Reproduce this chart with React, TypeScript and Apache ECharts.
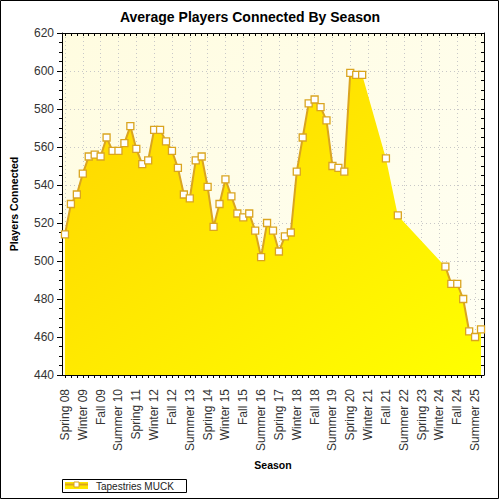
import React, { useEffect, useRef } from "react";
import * as echarts from "echarts";

const categories = [
  "Spring 08", "Summer 08", "Fall 08", "Winter 09", "Spring 09", "Summer 09", "Fall 09", "Winter 10",
  "Spring 10", "Summer 10", "Fall 10", "Winter 11", "Spring 11", "Summer 11", "Fall 11", "Winter 12",
  "Spring 12", "Summer 12", "Fall 12", "Winter 13", "Spring 13", "Summer 13", "Fall 13", "Winter 14",
  "Spring 14", "Summer 14", "Fall 14", "Winter 15", "Spring 15", "Summer 15", "Fall 15", "Winter 16",
  "Spring 16", "Summer 16", "Fall 16", "Winter 17", "Spring 17", "Summer 17", "Fall 17", "Winter 18",
  "Spring 18", "Summer 18", "Fall 18", "Winter 19", "Spring 19", "Summer 19", "Fall 19", "Winter 20",
  "Spring 20", "Summer 20", "Fall 20", "Winter 21", "Spring 21", "Summer 21", "Fall 21", "Winter 22",
  "Spring 22", "Summer 22", "Fall 22", "Winter 23", "Spring 23", "Summer 23", "Fall 23", "Winter 24",
  "Spring 24", "Summer 24", "Fall 24", "Winter 25", "Spring 25", "Summer 25", "Fall 25",
];

const players: (number | null)[] = [
  514, 530, 535, 546, 555, 556, 555, 565,
  558, 558, 562, 571, 559, 551, 553, 569,
  569, 563, 558, 549, 535, 533, 553, 555,
  539, 518, 530, 543, 534, 525, 523, 525,
  516, 502, 520, 516, 505, 513, 515, 547,
  565, 583, 585, 581, 574, 550, 549, 547,
  599, 598, 598, null, null, null, 554, null,
  524, null, null, null, null, null, null, null,
  497, 488, 488, 480, 463, 460, 464,
];

const seriesName = "Tapestries MUCK";
const titleText = "Average Players Connected By Season";
const xName = "Season";
const yName = "Players Connected";
const yMin = 440;
const yMax = 620;
const yStep = 20;

const FONT = "'Liberation Sans', Arial, Helvetica, sans-serif";
const GOLD = "#DAA520";

export default function App() {
  const ref = useRef<HTMLDivElement>(null);

  useEffect(() => {
    document.body.style.margin = "0";
    if (!ref.current) return;
    const chart = echarts.init(ref.current, null, { renderer: "svg" });

    const gridLine = { show: true, lineStyle: { color: "#c8c8c8", type: [1, 3], width: 1 } };

    const option: any = {
      animation: false,
      backgroundColor: "#ffffff",
      textStyle: { fontFamily: FONT },
      title: {
        text: titleText,
        left: "center",
        top: 10,
        padding: 0,
        textStyle: { fontFamily: FONT, fontSize: 14, fontWeight: "bold", color: "#000" },
      },
      grid: {
        left: 62,
        right: 16,
        top: 33,
        bottom: 125,
        show: true,
        borderWidth: 0,
        backgroundColor: new echarts.graphic.LinearGradient(0, 0, 1, 1, [
          { offset: 0, color: "#FFFCE0" },
          { offset: 1, color: "#FFFFF4" },
        ]),
      },
      xAxis: [
        {
          type: "category",
          data: categories,
          boundaryGap: true,
          position: "bottom",
          name: xName,
          nameLocation: "middle",
          nameGap: 84,
          nameTextStyle: { fontFamily: FONT, fontSize: 10.5, fontWeight: "bold", color: "#000" },
          axisLine: { show: true, lineStyle: { color: "#000", width: 1 } },
          axisTick: { show: true, interval: 0, alignWithLabel: true, length: 3, lineStyle: { color: "#000" } },
          axisLabel: {
            interval: 2,
            rotate: 90,
            margin: 14,
            fontFamily: FONT,
            fontSize: 12,
            color: "#333",
          },
          splitLine: { ...gridLine, interval: 2, alignWithLabel: true },
        },
        {
          type: "category",
          data: categories,
          boundaryGap: true,
          position: "top",
          axisLine: { show: true, lineStyle: { color: "#000", width: 1 } },
          axisTick: { show: true, inside: true, interval: 0, alignWithLabel: true, length: 3, lineStyle: { color: "#000" } },
          axisLabel: { show: false },
          splitLine: { show: false },
        },
      ],
      yAxis: [
        {
          type: "value",
          min: yMin,
          max: yMax,
          interval: yStep,
          position: "left",
          name: yName,
          nameLocation: "middle",
          nameGap: 43,
          nameTextStyle: { fontFamily: FONT, fontSize: 10.5, fontWeight: "bold", color: "#000" },
          axisLine: { show: true, lineStyle: { color: "#000", width: 1 } },
          axisTick: { show: true, length: 5, lineStyle: { color: "#000" } },
          minorTick: { show: true, splitNumber: 4, length: 3, lineStyle: { color: "#000" } },
          axisLabel: { fontFamily: FONT, fontSize: 12, color: "#333", margin: 8 },
          splitLine: gridLine,
        },
        {
          type: "value",
          min: yMin,
          max: yMax,
          interval: yStep,
          position: "right",
          axisLine: { show: true, lineStyle: { color: "#000", width: 1 } },
          axisTick: { show: true, inside: true, length: 3, lineStyle: { color: "#000" } },
          minorTick: { show: true, splitNumber: 4, length: 3, lineStyle: { color: "#000" } },
          axisLabel: { show: false },
          splitLine: { show: false },
        },
      ],
      series: [
        {
          name: seriesName + " area",
          type: "line",
          xAxisIndex: 0,
          yAxisIndex: 0,
          data: players,
          connectNulls: true,
          symbol: "none",
          lineStyle: { width: 0, opacity: 0 },
          areaStyle: {
            origin: "start",
            opacity: 1,
            color: new echarts.graphic.LinearGradient(0, 0, 1, 1, [
              { offset: 0, color: "#FFD400" },
              { offset: 1, color: "#FFFF00" },
            ]),
          },
          z: 2,
        },
        {
          name: seriesName,
          type: "line",
          xAxisIndex: 0,
          yAxisIndex: 0,
          data: players,
          connectNulls: false,
          showSymbol: true,
          showAllSymbol: true,
          symbol: "rect",
          symbolSize: 7,
          lineStyle: { color: GOLD, width: 2 },
          itemStyle: { color: "#ffffff", borderColor: GOLD, borderWidth: 1.3 },
          z: 3,
        },
      ],
      graphic: [
        {
          type: "rect",
          shape: { x: 0.5, y: 0.5, width: 498, height: 498 },
          style: { fill: "none", stroke: "#000", lineWidth: 1 },
          silent: true,
          z: 100,
        },
        {
          type: "group",
          left: 62,
          top: 479,
          children: [
            {
              type: "rect",
              shape: { x: 0.5, y: 0.5, width: 124, height: 13 },
              style: { fill: "#fff", stroke: "#000", lineWidth: 1 },
            },
            {
              type: "rect",
              shape: { x: 3, y: 3, width: 23, height: 7 },
              style: { fill: "#FFE600" },
            },
            {
              type: "line",
              shape: { x1: 3, y1: 5.5, x2: 26, y2: 5.5 },
              style: { stroke: GOLD, lineWidth: 2 },
            },
            {
              type: "rect",
              shape: { x: 12, y: 3, width: 5, height: 5 },
              style: { fill: "#fff", stroke: GOLD, lineWidth: 1 },
            },
            {
              type: "text",
              x: 34,
              y: 7,
              style: {
                text: seriesName,
                fontFamily: FONT,
                fontSize: 10,
                fill: "#222",
                verticalAlign: "middle",
                align: "left",
              },
            },
          ],
        },
      ],
    };

    chart.setOption(option);
    return () => chart.dispose();
  }, []);

  return (
    <div
      ref={ref}
      style={{ width: 500, height: 500, position: "absolute", left: 0, top: 0 }}
    />
  );
}
